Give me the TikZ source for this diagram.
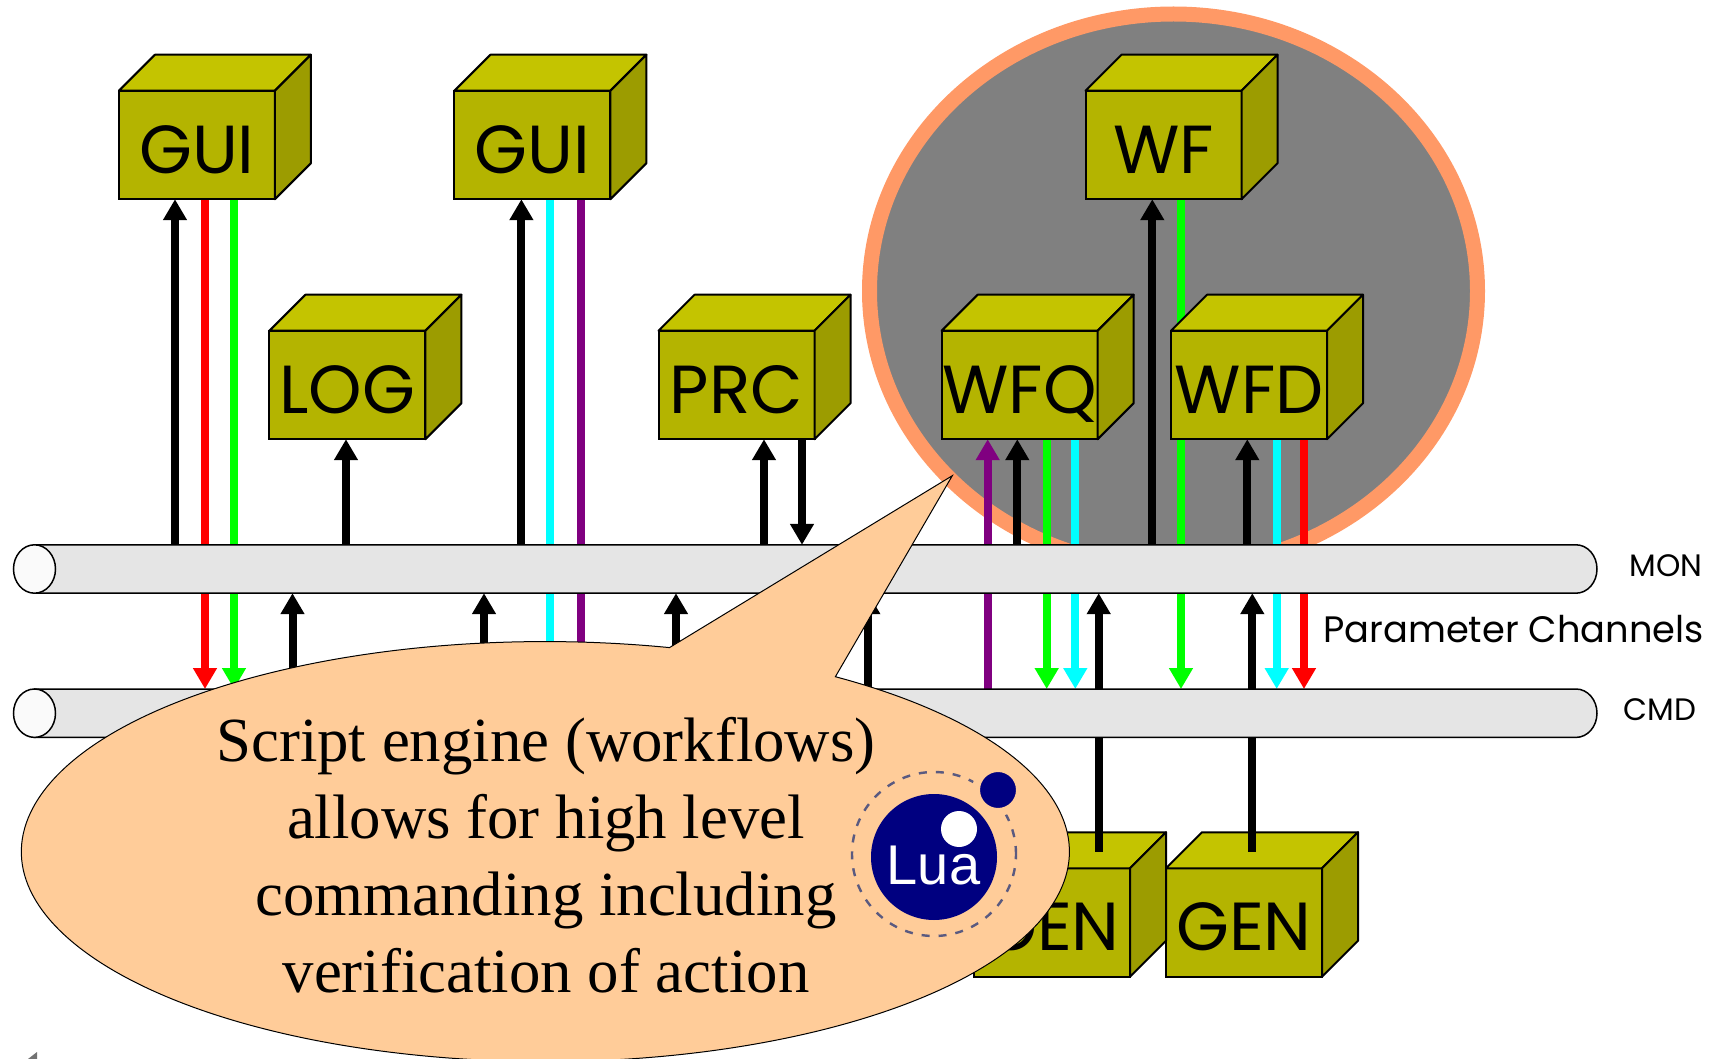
\documentclass[tikz,border=0pt]{standalone}
\usepackage{fontspec}
\setmainfont{Liberation Serif}
\newfontfamily\boxfont{Poppins}
\newfontfamily\luafont{Liberation Sans}
\usetikzlibrary{arrows.meta,shapes.geometric,backgrounds}
\definecolor{boxfront}{HTML}{B4B400}
\definecolor{boxtop}{HTML}{C4C400}
\definecolor{boxside}{HTML}{9C9C00}
\definecolor{cloudedge}{HTML}{FF9966}
\definecolor{bubblefill}{HTML}{FFCC99}
\definecolor{luablue}{HTML}{000080}
\definecolor{luaorbit}{HTML}{5A5A80}
\definecolor{purpleline}{HTML}{800080}
\definecolor{cyanline}{HTML}{00FFFF}
\begin{document}
\begin{tikzpicture}[x=0.5pt,y=0.5pt]
    \tikzstyle{unit}=[draw=black,line width=1pt,fill=boxfront,rectangle,outer sep=0pt,inner sep=0pt,minimum width=78pt,minimum height=54.25pt,text height=28.2pt,text depth=0pt,font=\boxfont\fontsize{34}{34}\selectfont]
    \tikzstyle{unittop}=[draw=black,line width=1pt,fill=boxtop,line join=round]
    \tikzstyle{unitside}=[draw=black,line width=1pt,fill=boxside,line join=round]
    \tikzstyle{channel}=[rectangle,outer sep=0pt,inner sep=0pt,minimum width=770.75pt,minimum height=24.2pt]
    \tikzstyle{channelbody}=[draw=black,line width=0.75pt,fill=black!10]
    \tikzstyle{channelend}=[ellipse,draw=black,line width=0.75pt,fill=black!2,inner sep=0pt,minimum width=21pt,minimum height=24.2pt]
    \tikzstyle{wire}=[line width=4pt]
    \tikzstyle{tip}=[-{Triangle[length=10.5pt,width=11.4pt]}]
    \tikzstyle{chlabel}=[font=\boxfont\fontsize{15.5}{15.5}\selectfont,inner sep=0pt]

    \useasboundingbox (0,0) rectangle (1721,-1059);

    \node[channel] at (805.25,-569) (mon) {};
    \node[channel] at (805.25,-713.2) (cmd) {};

    \node[unit] at (196.9,-145) (gui1) {GUI};
    \node[unit] at (532.4,-145) (gui2) {GUI};
    \node[unit] at (347.4,-385) (log) {LOG};
    \node[unit] at (736.5,-385) (prc) {PRC};
    \node[unit] at (1019.6,-385) (wfq) {WFQ};
    \node[unit] at (1249,-385) (wfd) {WFD};
    \node[unit] at (1163.5,-145) (wf) {WF};
    \node[unit] at (1052,-922.5) (gen1) {GEN};
    \node[unit] at (1244,-922.5) (gen2) {GEN};
    \coordinate (gentop) at (0,-852);

    \begin{scope}[on background layer]
    % workflow group
    \node[ellipse,draw=cloudedge,fill=black!50,line width=7.5pt,minimum width=304pt,minimum height=277pt,inner sep=0pt] (cloud) at (1173.5,-291) {};

    % units down to mon
    \draw[wire,tip] (175,0 |- mon.north) -- (175,0 |- gui1.south);
    \draw[wire,red] (205,0 |- gui1.south) -- (205,0 |- mon.north);
    \draw[wire,green] (234,0 |- gui1.south) -- (234,0 |- mon.north);
    \draw[wire,tip] (346,0 |- mon.north) -- (346,0 |- log.south);
    \draw[wire,tip] (521.4,0 |- mon.north) -- (521.4,0 |- gui2.south);
    \draw[wire,cyanline] (550,0 |- gui2.south) -- (550,0 |- mon.north);
    \draw[wire,purpleline] (580.6,0 |- gui2.south) -- (580.6,0 |- mon.north);
    \draw[wire,tip] (764,0 |- mon.north) -- (764,0 |- prc.south);
    \draw[wire,tip] (802,0 |- prc.south) -- (802,0 |- mon.north);
    \draw[wire,tip,purpleline] (987.7,0 |- mon.north) -- (987.7,0 |- wfq.south);
    \draw[wire,tip] (1017.3,0 |- mon.north) -- (1017.3,0 |- wfq.south);
    \draw[wire,green] (1046.7,0 |- wfq.south) -- (1046.7,0 |- mon.north);
    \draw[wire,cyanline] (1075.3,0 |- wfq.south) -- (1075.3,0 |- mon.north);
    \draw[wire,tip] (1152.3,0 |- mon.north) -- (1152.3,0 |- wf.south);
    \draw[wire,green] (1181,0 |- wf.south) -- (1181,0 |- mon.north);
    \draw[wire,tip] (1247.3,0 |- mon.north) -- (1247.3,0 |- wfd.south);
    \draw[wire,cyanline] (1276.7,0 |- wfd.south) -- (1276.7,0 |- mon.north);
    \draw[wire,red] (1304,0 |- wfd.south) -- (1304,0 |- mon.north);

    % mon to cmd
    \draw[wire,tip,red] (205,0 |- mon.south) -- (205,0 |- cmd.north);
    \draw[wire,tip,green] (234,0 |- mon.south) -- (234,0 |- cmd.north);
    \draw[wire,tip] (292.5,0 |- cmd.north) -- (292.5,0 |- mon.south);
    \draw[wire,tip] (484,0 |- cmd.north) -- (484,0 |- mon.south);
    \draw[wire,tip,cyanline] (550,0 |- mon.south) -- (550,0 |- cmd.north);
    \draw[wire,tip,purpleline] (580.6,0 |- mon.south) -- (580.6,0 |- cmd.north);
    \draw[wire,tip] (676,0 |- cmd.north) -- (676,0 |- mon.south);
    \draw[wire,tip] (868.3,0 |- cmd.north) -- (868.3,0 |- mon.south);
    \draw[wire,purpleline] (987.7,0 |- mon.south) -- (987.7,0 |- cmd.north);
    \draw[wire,tip,green] (1046.7,0 |- mon.south) -- (1046.7,0 |- cmd.north);
    \draw[wire,tip,cyanline] (1075.3,0 |- mon.south) -- (1075.3,0 |- cmd.north);
    \draw[wire,tip] (1098.7,0 |- cmd.north) -- (1098.7,0 |- mon.south);
    \draw[wire,tip,green] (1181,0 |- mon.south) -- (1181,0 |- cmd.north);
    \draw[wire,tip] (1252.3,0 |- cmd.north) -- (1252.3,0 |- mon.south);
    \draw[wire,tip,cyanline] (1276.7,0 |- mon.south) -- (1276.7,0 |- cmd.north);
    \draw[wire,tip,red] (1304,0 |- mon.south) -- (1304,0 |- cmd.north);

    % channels
    \foreach \c in {mon,cmd} {
        \draw[channelbody] (\c.north west) -- (\c.north east) arc[start angle=90,end angle=-90,x radius=21,y radius=24.2] -- (\c.south west) -- cycle;
        \node[channelend] (\c end) at (\c.west) {};
    }
    \end{scope}

    % depth faces of the units
    \foreach \b in {gui1,gui2,log,prc,wfq,wfd,wf,gen1,gen2} {
        \draw[unittop] (\b.north west) -- ++(36,36) -- ++(156,0) -- (\b.north east) -- cycle;
        \draw[unitside] (\b.north east) -- ++(36,36) -- ++(0,-108.5) -- (\b.south east) -- cycle;
    }

    \draw[wire] (1098.7,0 |- cmd.south) -- (1098.7,0 |- gentop);
    \draw[wire] (1252.3,0 |- cmd.south) -- (1252.3,0 |- gentop);

    \node[chlabel] at (1666,-566) (monlabel) {MON};
    \node[chlabel] at (1659.7,-710) (cmdlabel) {CMD};
    \node[font=\boxfont\fontsize{18.4}{18.4}\selectfont,inner sep=0pt] at (1513.5,-629) (paramlabel) {Parameter Channels};

    % callout
    \coordinate (bubbletip) at (952.3,-475.7);
    \draw[fill=bubblefill,draw=black,line width=0.5pt] (669.5,-647.6) arc[start angle=76.3,end angle=416.4,x radius=524,y radius=210] -- (bubbletip) -- cycle;
    \node[align=center,inner sep=0pt,font=\fontsize{31.4}{38.5}\selectfont] at (546,-855) (bubbletext) {Script engine (workflows)\\allows for high level\\commanding including\\verification of action};

    \node[circle,draw=luaorbit,line width=1.2pt,dash pattern=on 4pt off 4.5pt,minimum size=82pt,inner sep=0pt] at (934,-854) (luaorbit) {};
    \node[circle,fill=luablue,minimum size=63pt,inner sep=0pt] at (934,-857) (luamain) {};
    \node[circle,fill=white,minimum size=18pt,inner sep=0pt] at (959,-829) (luamoon) {};
    \node[circle,fill=luablue,draw=bubblefill,line width=4pt,minimum size=22pt,inner sep=0pt] at (998,-790) (luaplanet) {};
    \node[text=white,font=\luafont\fontsize{28}{28}\selectfont,inner sep=0pt] at (933.5,-866) (lualabel) {Lua};

    % stray mark in the corner
    \fill[black!55] (28,-1059) -- (37,-1052) -- (37,-1059) -- cycle;
\end{tikzpicture}
\end{document}
